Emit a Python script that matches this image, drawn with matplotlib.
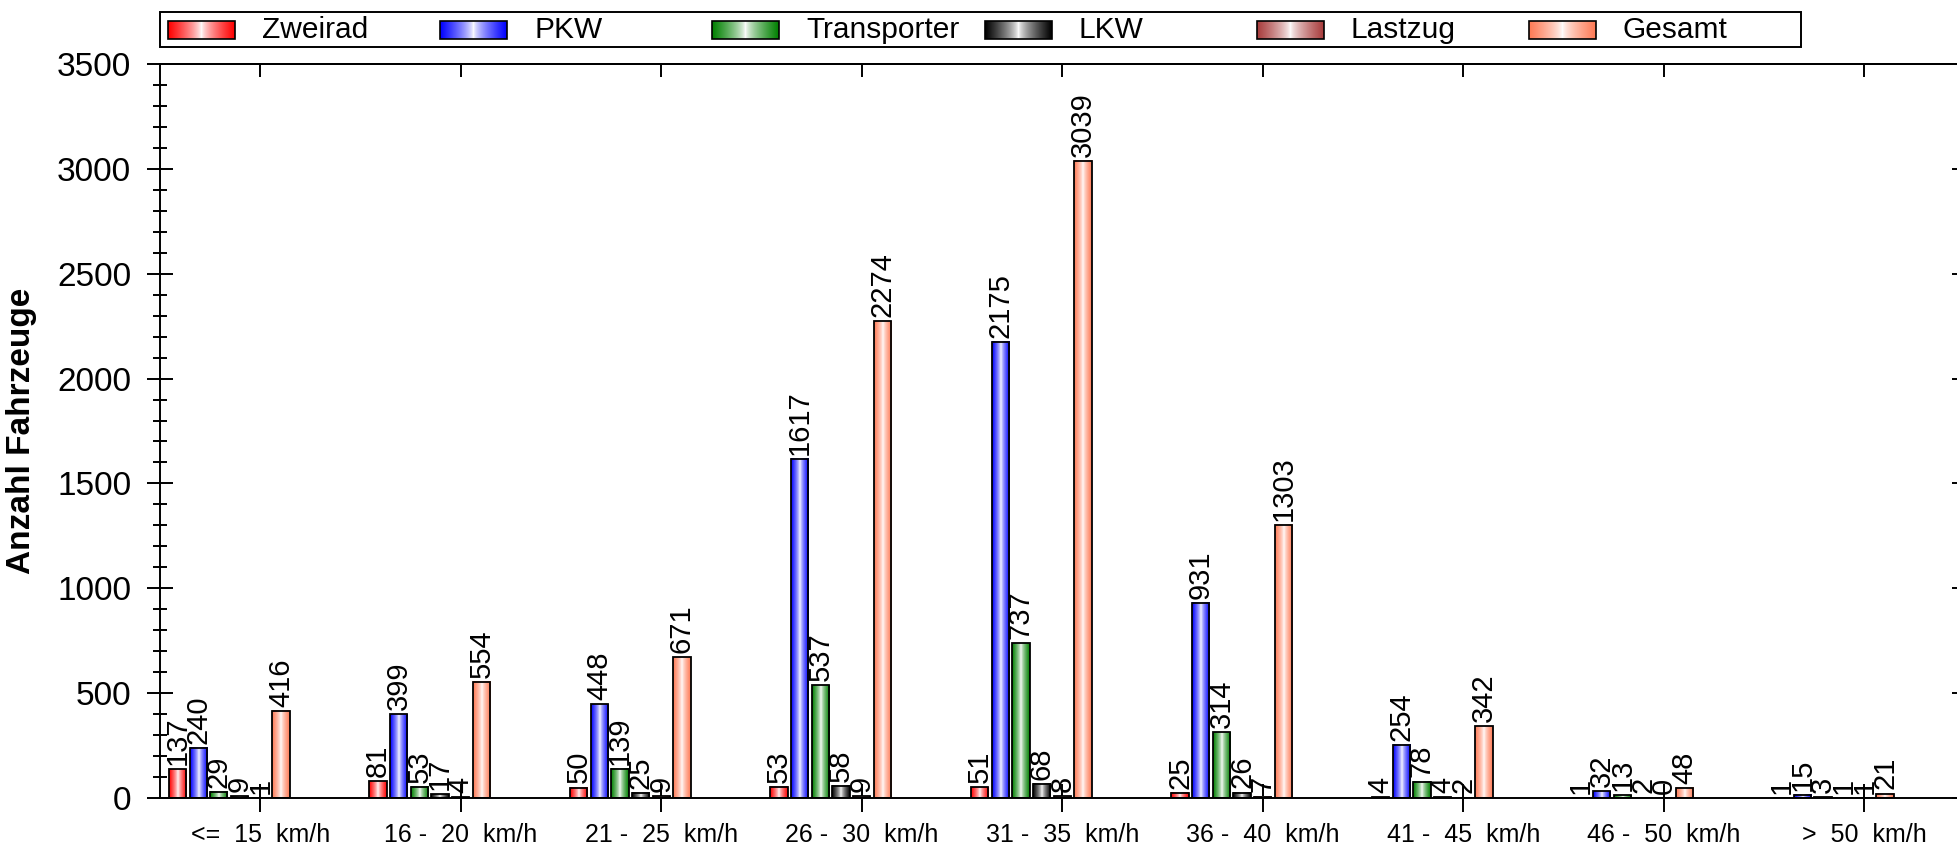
import numpy as np
import matplotlib
matplotlib.use("Agg")
import matplotlib.pyplot as plt
from matplotlib.patches import Rectangle
from matplotlib.colors import to_rgb
from matplotlib.ticker import MultipleLocator

plt.rcParams['font.family'] = ['Liberation Sans', 'DejaVu Sans']

# ---------------- data ----------------
categories = ["<=  15  km/h", "16 -  20  km/h", "21 -  25  km/h", "26 -  30  km/h",
              "31 -  35  km/h", "36 -  40  km/h", "41 -  45  km/h", "46 -  50  km/h",
              ">  50  km/h"]
series_names = ["Zweirad", "PKW", "Transporter", "LKW", "Lastzug", "Gesamt"]
zweirad = [137, 81, 50, 53, 51, 25, 4, 1, 1]
pkw = [240, 399, 448, 1617, 2175, 931, 254, 32, 15]
transporter = [29, 53, 139, 537, 737, 314, 78, 13, 3]
lkw = [9, 17, 25, 58, 68, 26, 4, 2, 1]
lastzug = [1, 4, 9, 9, 8, 7, 2, 0, 1]
gesamt = [416, 554, 671, 2274, 3039, 1303, 342, 48, 21]
y_ticks = [0, 500, 1000, 1500, 2000, 2500, 3000, 3500]
y_label = "Anzahl Fahrzeuge"

series_values = [zweirad, pkw, transporter, lkw, lastzug, gesamt]
series_colors = ["#ff0000", "#0000ff", "#008000", "#000000", "#a83c3c", "#ff7a55"]

W, H = 1957, 846
fig = plt.figure(figsize=(W / 100, H / 100), dpi=100)
ax = fig.add_axes([160 / W, 1 - 798 / H, 1804.6 / W, 734 / H])


def gradient(color, n=101):
    u = np.linspace(0, 1, n)
    d = np.clip(np.abs(u - 0.5) * 2, 0, 1)
    w = d ** 0.7
    base = np.array(to_rgb(color))
    img = (1 - w)[:, None] * np.ones(3) + w[:, None] * base
    return img[None, :, :]


x = np.arange(len(categories))
pitch = 0.1032
bw = 0.086
for k, (vals, col) in enumerate(zip(series_values, series_colors)):
    xs = x + (k - 4) * pitch
    bars = ax.bar(xs, vals, width=bw, facecolor='none', edgecolor='black',
                  linewidth=1.3, zorder=3)
    g = gradient(col)
    for rect in bars:
        h = rect.get_height()
        if h <= 0:
            continue
        x0 = rect.get_x()
        ax.imshow(g, extent=[x0, x0 + rect.get_width(), 0, h], aspect='auto',
                  zorder=2, interpolation='bilinear')
    ax.bar_label(bars, labels=[str(v) for v in vals], rotation=90, padding=3,
                 fontsize=21)

ax.set_xlim(-0.5, 8.5)
ax.set_ylim(0, 3500)
ax.set_aspect('auto')

ax.set_xticks(x)
ax.set_xticklabels(categories, fontsize=18)
ax.tick_params(axis='x', which='major', direction='inout', length=20, width=1.4,
               pad=8, top=False)
ax.set_yticks(y_ticks)
ax.set_yticklabels([str(v) for v in y_ticks], fontsize=24)
ax.yaxis.set_minor_locator(MultipleLocator(100))
ax.tick_params(axis='y', which='major', direction='inout', length=19.4, width=1.4,
               pad=11, right=False)
ax.tick_params(axis='y', which='minor', direction='inout', length=10, width=1.4,
               right=False)
for s in ax.spines.values():
    s.set_linewidth(1.4)

secx = ax.secondary_xaxis('top')
secx.set_xticks(x)
secx.set_xticklabels([])
secx.tick_params(direction='in', length=9.4, width=1.4)
secx.spines['top'].set_linewidth(1.4)

secy = ax.secondary_yaxis('right')
secy.set_yticks(y_ticks)
secy.set_yticklabels([])
secy.yaxis.set_minor_locator(MultipleLocator(100))
secy.tick_params(which='major', direction='in', length=9.4, width=1.4)
secy.tick_params(which='minor', direction='in', length=5, width=1.4)
secy.spines['right'].set_linewidth(1.4)

fig.text(22 / W, 1 - 431 / H, y_label, rotation=90, ha='center', va='center',
         fontsize=24, fontweight='bold')

# ---------------- legend ----------------
lax = fig.add_axes([0, 0, 1, 1], zorder=5)
lax.patch.set_alpha(0)
lax.add_patch(Rectangle((160, 12), 1641, 35, fill=False, edgecolor='black', lw=1.4))
for k, (name, col) in enumerate(zip(series_names, series_colors)):
    px = 168 + 272.2 * k
    lax.imshow(gradient(col), extent=[px, px + 67, 39, 21], aspect='auto',
               interpolation='bilinear', zorder=2)
    lax.add_patch(Rectangle((px, 21), 67, 18, fill=False, edgecolor='black', lw=1.2,
                            zorder=3))
    lax.text(px + 94, 30, name, va='center', ha='left', fontsize=21.5)
lax.set_xlim(0, W)
lax.set_ylim(H, 0)
lax.axis('off')

fig.savefig("out.png", dpi=100)
